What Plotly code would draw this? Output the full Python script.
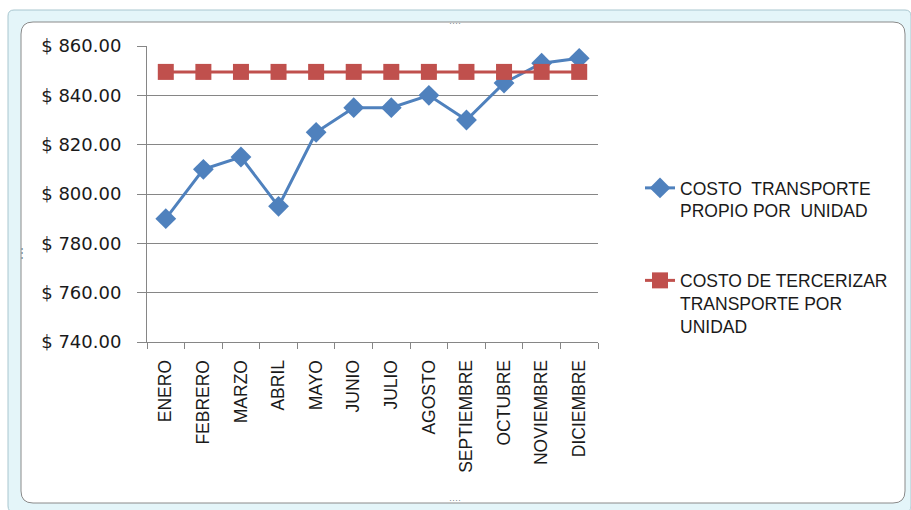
import plotly.graph_objects as go

meses = ["ENERO", "FEBRERO", "MARZO", "ABRIL", "MAYO", "JUNIO", "JULIO",
         "AGOSTO", "SEPTIEMBRE", "OCTUBRE", "NOVIEMBRE", "DICIEMBRE"]
costo_propio = [790, 810, 815, 795, 825, 835, 835, 840, 830, 845, 853, 855]
costo_tercerizar = [849.5] * 12
y_ticks = [740, 760, 780, 800, 820, 840, 860]
y_tick_text = ["$ 740.00", "$ 760.00", "$ 780.00", "$ 800.00",
               "$ 820.00", "$ 840.00", "$ 860.00"]

W, H = 911, 510
L, R, T, B = 147, 598, 46, 342  # plot area in px


def px(x):
    return (x - L) / (R - L)


def py(y):
    return (B - y) / (B - T)


def rrect(x0, y0, x1, y1, r):
    return (f"M{px(x0+r)},{py(y0)} L{px(x1-r)},{py(y0)} "
            f"Q{px(x1)},{py(y0)} {px(x1)},{py(y0+r)} "
            f"L{px(x1)},{py(y1-r)} Q{px(x1)},{py(y1)} {px(x1-r)},{py(y1)} "
            f"L{px(x0+r)},{py(y1)} Q{px(x0)},{py(y1)} {px(x0)},{py(y1-r)} "
            f"L{px(x0)},{py(y0+r)} Q{px(x0)},{py(y0)} {px(x0+r)},{py(y0)} Z")


fig = go.Figure()
fig.add_trace(go.Scatter(
    x=meses, y=costo_propio, mode="lines+markers",
    name="COSTO  TRANSPORTE<br>PROPIO POR  UNIDAD", legendgroup="a",
    line=dict(color="#4f81bd", width=3),
    marker=dict(symbol="diamond", size=16, color="#4f81bd"),
))
fig.add_trace(go.Scatter(
    x=meses, y=costo_tercerizar, mode="lines+markers",
    name="COSTO DE TERCERIZAR<br>TRANSPORTE POR<br>UNIDAD", legendgroup="b",
    line=dict(color="#c0504d", width=3),
    marker=dict(symbol="square", size=16, color="#c0504d"),
))

shapes = [
    dict(type="path", xref="paper", yref="paper", layer="below",
         path=rrect(8, 10, 911, 512, 6), fillcolor="#e4f5f9",
         line=dict(color="#a8c6cf", width=1)),
    dict(type="path", xref="paper", yref="paper", layer="below",
         path=rrect(21, 22, 905, 503, 12), fillcolor="white",
         line=dict(color="#8a8a8a", width=1)),
]

annotations = [
    dict(x=px(463), y=py(16), xref="paper", yref="paper", text="····",
         showarrow=False, font=dict(size=9, color="#7a8a90")),
    dict(x=px(463), y=py(507), xref="paper", yref="paper", text="····",
         showarrow=False, font=dict(size=9, color="#7a8a90")),
    dict(x=px(14), y=py(262), xref="paper", yref="paper", text="⋮",
         showarrow=False, font=dict(size=12, color="#7a8a90")),
]

fig.update_layout(
    width=W, height=H,
    margin=dict(l=L, r=W - R, t=T, b=H - B),
    paper_bgcolor="white", plot_bgcolor="white",
    font=dict(family="Liberation Sans, Arial, sans-serif", color="#1a1a1a"),
    shapes=shapes, annotations=annotations,
    showlegend=True,
    legend=dict(x=px(640), y=py(170), xanchor="left", yanchor="top",
                font=dict(size=17.5, color="#1a1a1a"), valign="top",
                tracegroupgap=44, bgcolor="rgba(0,0,0,0)"),
    xaxis=dict(type="category", showgrid=False, showline=True,
               linecolor="#868686", linewidth=1, ticks="outside",
               tickson="boundaries", ticklen=6, tickcolor="#868686",
               tickangle=-90, tickfont=dict(size=17.5, color="#1a1a1a"),
               ticklabelstandoff=10,
               range=[-0.5, 11.5], fixedrange=True),
    yaxis=dict(range=[740, 860], tickmode="array", tickvals=y_ticks,
               ticktext=y_tick_text, showgrid=True, gridcolor="#868686",
               gridwidth=1, showline=True, linecolor="#868686",
               ticks="outside", ticklen=9, tickcolor="#868686",
               tickfont=dict(size=18, color="#1a1a1a",
                             family="DejaVu Sans, sans-serif"),
               zeroline=False, ticklabelstandoff=12),
)

fig.write_html("out.html")
